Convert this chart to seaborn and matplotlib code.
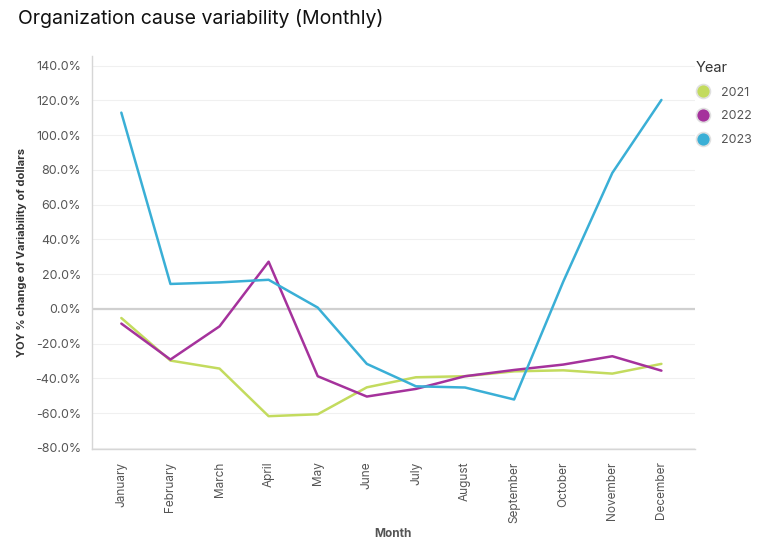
import seaborn as sns
import matplotlib.pyplot as plt
import pandas as pd
from matplotlib.lines import Line2D

months = ["January", "February", "March", "April", "May", "June", "July",
          "August", "September", "October", "November", "December"]
years = ["2021", "2022", "2023"]
yoy_2021 = [-5.2, -29.7, -34.3, -61.7, -60.6, -45.1, -39.3, -38.7, -35.9, -35.3, -37.2, -31.6]
yoy_2022 = [-8.4, -29.1, -10.0, 27.2, -38.7, -50.4, -46.0, -38.7, -35.1, -32.0, -27.2, -35.5]
yoy_2023 = [113.0, 14.4, 15.3, 16.8, 0.8, -31.6, -44.5, -45.2, -52.1, 15.7, 78.3, 120.3]
colors = ["#c3db5e", "#a5329c", "#3aafd6"]

rows = []
for yr, vals in zip(years, [yoy_2021, yoy_2022, yoy_2023]):
    for m, v in zip(months, vals):
        rows.append([m, yr, v])
df = pd.DataFrame(rows, columns=["Month", "Year", "YOY"])

sns.set_style("white")
plt.rcParams["font.family"] = ["Inter", "DejaVu Sans"]

fig = plt.figure(figsize=(7.72, 5.5), dpi=100)
ax = fig.add_axes([0.119, 0.1836, 0.781, 0.7146])

# grid + zero line
for t in range(-80, 141, 20):
    ax.axhline(t, color="#f0f0f0", lw=0.8, zorder=0)
ax.axhline(0, color="#d0d0d0", lw=1.6, zorder=1)

sns.lineplot(data=df, x="Month", y="YOY", hue="Year", palette=colors,
             linewidth=1.8, ax=ax, legend=False, sort=False)

ax.set_xlim(-0.6, 11.68)
ax.set_ylim(-80.6, 145.6)
ax.set_yticks(range(-80, 141, 20))
ax.set_yticklabels([f"{t:.1f}%" for t in range(-80, 141, 20)])
ax.tick_params(axis="y", length=5, color="#dddddd", labelsize=9, labelcolor="#555555", pad=3)
ax.tick_params(axis="x", length=5, color="#dddddd", labelsize=8.5, labelcolor="#555555",
               rotation=90, pad=4)

for s in ["top", "right"]:
    ax.spines[s].set_visible(False)
for s in ["left", "bottom"]:
    ax.spines[s].set_color("#d6d6d6")
    ax.spines[s].set_linewidth(1.0)

ax.set_xlabel("Month", fontsize=8.5, weight="bold", color="#555555", labelpad=4)
ax.set_ylabel("YOY % change of Variability of dollars", fontsize=8, weight="bold",
              color="#333333", labelpad=6)

fig.text(0.023, 0.966, "Organization cause variability (Monthly)", fontsize=14,
         color="#111111", va="center", ha="left")

handles = [Line2D([], [], marker="o", linestyle="", markersize=10, markerfacecolor=c,
                  markeredgecolor="#e0e0e0", markeredgewidth=1.2) for c in colors]
leg = ax.legend(handles, years, title="Year", loc="upper left", bbox_to_anchor=(0.98, 1.02),
                frameon=False, fontsize=9, title_fontsize=10.5, handletextpad=0.9,
                labelspacing=0.95, borderaxespad=0.6, handlelength=1.2)
leg._legend_box.align = "left"
for t in leg.get_texts():
    t.set_color("#555555")
leg.get_title().set_color("#333333")

fig.savefig("out.png", dpi=100)
plt.close()
